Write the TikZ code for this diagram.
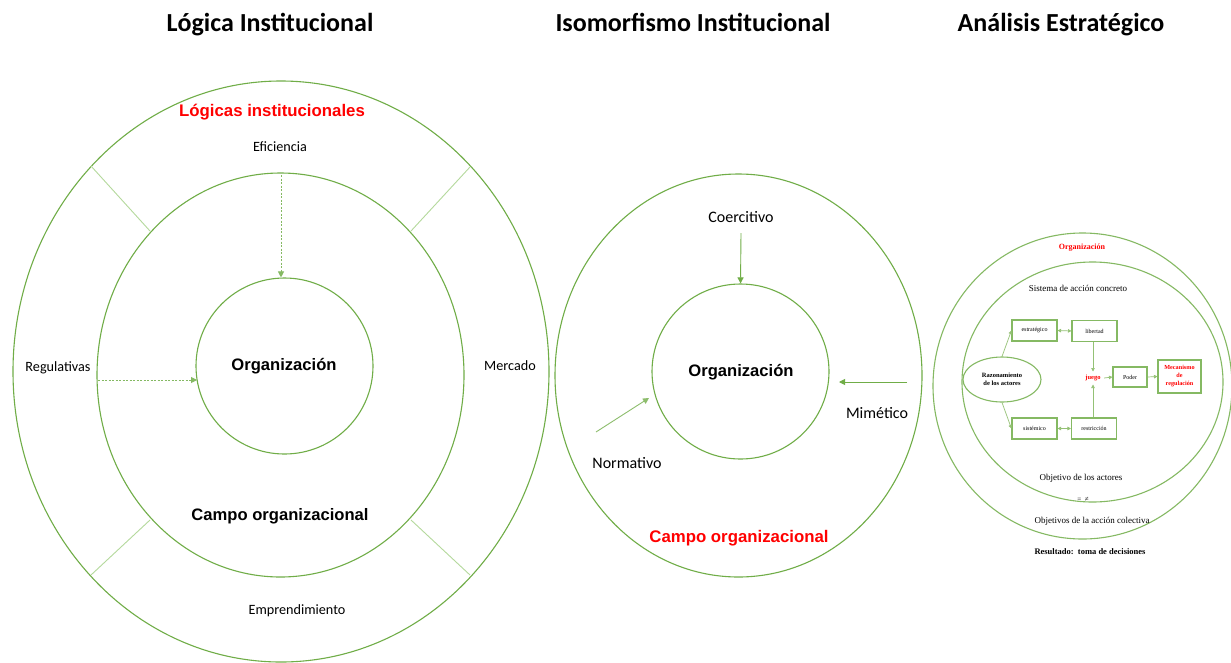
\documentclass[tikz,border=0pt]{standalone}
\usepackage{fontspec}
\setmainfont{Carlito}
\newfontfamily\arialf{Liberation Sans}
\newfontfamily\timesf{Liberation Serif}
\usetikzlibrary{arrows.meta,shapes.geometric}
\definecolor{gr}{HTML}{70AD47}
\definecolor{lgr}{HTML}{B5D99C}
\definecolor{rd}{HTML}{FF0000}
\tikzset{
  ring/.style={ellipse, draw=gr, line width=1.1pt, inner sep=0pt},
  divider/.style={draw=lgr, line width=0.9pt},
  title/.style={font=\fontsize{26}{28}\selectfont\bfseries, text=black, anchor=base},
  lbl/.style={font=\fontsize{14.2}{16}\selectfont},
  lblm/.style={font=\fontsize{16}{18}\selectfont},
  bigb/.style={font=\arialf\fontsize{16.6}{18}\selectfont\bfseries},
  redb/.style={font=\arialf\fontsize{16.8}{18}\selectfont\bfseries, text=rd},
  darr/.style={draw=gr!85, line width=0.9pt, dash pattern=on 2pt off 1.5pt, -{Triangle[width=6pt,length=6pt]}},
  sarr/.style={draw=gr, line width=0.9pt, -{Triangle[width=6pt,length=6pt]}},
  box/.style={draw=gr!85, line width=1.1pt, minimum width=45pt, minimum height=21pt, inner sep=0pt, font=\timesf\fontsize{6}{7}\selectfont},
  tarr/.style={draw=gr!75, line width=0.7pt, -{Triangle[width=3.5pt,length=3.5pt]}},
  tarr2/.style={draw=gr!75, line width=0.7pt, {Triangle[width=3.5pt,length=3.5pt]}-{Triangle[width=3.5pt,length=3.5pt]}},
  tx/.style={font=\timesf\fontsize{9}{10}\selectfont},
}
\begin{document}
\begin{tikzpicture}[x=1pt,y=-1pt]
\useasboundingbox[fill=white] (0,0) rectangle (1231,662);

% titles
\node[title] (t1) at (270,31) {Lógica Institucional};
\node[title] (t2) at (693,31) {Isomorfismo Institucional};
\node[title] (t3) at (1061,31) {Análisis Estratégico};

% ---------- left diagram ----------
\node[ring, minimum width=536pt, minimum height=581pt] (outL) at (281,371.5) {};
\node[ring, minimum width=367pt, minimum height=404pt] (midL) at (280.5,375) {};
\node[ring, minimum width=177pt, minimum height=176pt] (innL) at (284.5,366) {};

\coordinate (d1a) at (91,166);  \coordinate (d1b) at (150,231);
\coordinate (d2a) at (470,167); \coordinate (d2b) at (411,231);
\coordinate (d3a) at (91,575);  \coordinate (d3b) at (150,520);
\coordinate (d4a) at (470,575); \coordinate (d4b) at (411,520);
\draw[divider] (d1a) -- (d1b);
\draw[divider] (d2a) -- (d2b);
\draw[divider] (d3a) -- (d3b);
\draw[divider] (d4a) -- (d4b);

\node[redb] (logi) at (272,112) {Lógicas institucionales};
\node[lbl] (efi) at (280,147) {Eficiencia};
\node[lbl] (reg) at (58,368) {Regulativas};
\node[lbl] (mer) at (510,366) {Mercado};
\node[lbl] (emp) at (297,611) {Emprendimiento};
\node[bigb] (orgL) at (284,366) {Organización};
\node[bigb] (campL) at (280,516) {Campo organizacional};

\coordinate (efiS) at (281,175);
\coordinate (regS) at (98,380);
\draw[darr] (efiS) -- (efiS |- innL.north);
\draw[darr] (regS) -- (197,380);

% ---------- middle diagram ----------
\node[ring, minimum width=367pt, minimum height=403pt] (outM) at (738.5,375.5) {};
\node[ring, minimum width=177pt, minimum height=175pt] (innM) at (740.5,371.5) {};
\node[lblm] (coer) at (741,217) {Coercitivo};
\node[lblm] (mim) at (877,413) {Mimético};
\node[lblm] (nor) at (627,463) {Normativo};
\node[bigb] (orgM) at (741,372) {Organización};
\node[redb] (campM) at (739,538) {Campo organizacional};
\coordinate (coerS) at (741,233);
\coordinate (mimS) at (907,382);
\coordinate (mimE) at (839,382);
\coordinate (norS) at (596,432);
\coordinate (norE) at (649,398);
\draw[sarr] (coerS) -- (innM.north);
\draw[sarr] (mimS) -- (mimE);
\draw[sarr, draw=gr!80] (norS) -- (norE);

% ---------- right diagram ----------
\node[ring, draw=gr!85, line width=1.1pt, minimum width=299pt, minimum height=306pt] (outR) at (1082.5,386) {};
\node[ring, draw=gr!85, line width=1.1pt, minimum width=261pt, minimum height=240pt] (innR) at (1092.5,382) {};

\node[font=\timesf\fontsize{8}{9}\selectfont\bfseries, text=rd] (orgR) at (1082,248) {Organización};
\node[tx] (sis) at (1078,288) {Sistema de acción concreto};

\node[box] (estr) at (1034.5,330.5) {estratégico};
\node[box] (lib) at (1094.5,331) {libertad};
\node[box] (sist) at (1034.5,428.5) {sistémico};
\node[box] (res) at (1094,428.5) {restricción};
\node[box, minimum width=34pt, minimum height=20pt] (pod) at (1130,377) {Poder};
\node[box, minimum width=43pt, minimum height=33pt, align=center, text=rd, font=\timesf\fontsize{6.2}{8}\selectfont\bfseries] (mec) at (1179.5,376.5) {Mecanismo\\de\\regulación};
\node[ellipse, draw=gr!85, line width=1.1pt, minimum width=78pt, minimum height=45pt, inner sep=0pt, align=center, font=\timesf\fontsize{6.5}{8.5}\selectfont\bfseries] (raz) at (1002,379.5) {Razonamiento\\de los actores};
\node[font=\timesf\fontsize{6.5}{8}\selectfont\bfseries, text=rd] (jue) at (1093,378) {juego};

\draw[tarr] (raz.north) -- (estr.west);
\draw[tarr] (raz.south) -- (sist.west);
\draw[tarr2] (estr.east) -- (lib.west);
\draw[tarr2] (sist.east) -- (res.west);
\draw[tarr] (lib.south -| jue) -- (jue.north);
\draw[tarr] (res.north -| jue) -- (jue.south);
\draw[tarr] (jue.east) -- (pod.west);
\draw[tarr] (pod.east) -- (mec.west);

\node[tx] (obja) at (1081,478) {Objetivo de los actores};
\node[font=\timesf\fontsize{7}{8}\selectfont] (neq) at (1083,499) {=\ \ ≠};
\node[tx] (objc) at (1092,521) {Objetivos de la acción colectiva};
\node[font=\timesf\fontsize{8.5}{10}\selectfont\bfseries] (resu) at (1090,552) {Resultado:\ \ toma de decisiones};
\end{tikzpicture}
\end{document}
